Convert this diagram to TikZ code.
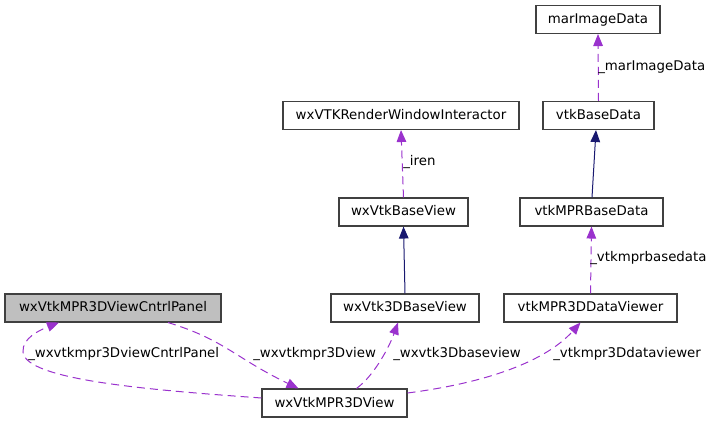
\documentclass[tikz,border=0pt]{standalone}
\usepackage{fontspec}
\setmainfont{DejaVu Sans}
\usetikzlibrary{arrows.meta,calc}
\definecolor{usecol}{HTML}{9A32CD}
\definecolor{inhcol}{HTML}{191970}
\definecolor{boxline}{HTML}{404040}
\definecolor{boxgray}{HTML}{BFBFBF}
\begin{document}
\begin{tikzpicture}[x=0.75pt,y=-0.75pt,
  box/.style={draw=boxline,line width=0.8pt,fill=white,inner sep=0pt,
    minimum height=21pt,text height=7.5pt,text depth=1.5pt,font=\fontsize{10pt}{12pt}\selectfont},
  usage/.style={draw=usecol,line width=0.75pt,dash pattern=on 6pt off 3.75pt,
    -{Triangle[length=9pt,width=7.2pt,fill=usecol]}},
  inherit/.style={draw=inhcol,line width=0.75pt,
    -{Triangle[length=9pt,width=7.2pt,fill=inhcol]}},
  lbl/.style={anchor=base west,inner sep=0pt,font=\fontsize{10pt}{12pt}\selectfont}]
\path[use as bounding box] (0,0) rectangle (715,424);
% nodes
\node[box,minimum width=93pt] (mid) at (598,19.5) {marImageData};
\node[box,minimum width=177pt] (rwi) at (401,115.5) {wxVTKRenderWindowInteractor};
\node[box,minimum width=83.25pt] (bd) at (598.5,115.5) {vtkBaseData};
\node[box,minimum width=96.75pt] (wbv) at (403.5,212) {wxVtkBaseView};
\node[box,minimum width=107.25pt] (mbd) at (591.5,212) {vtkMPRBaseData};
\node[box,minimum width=162pt,fill=boxgray] (panel) at (113,308) {wxVtkMPR3DViewCntrlPanel};
\node[box,minimum width=111pt] (w3d) at (405,308) {wxVtk3DBaseView};
\node[box,minimum width=129.75pt] (dv) at (590.5,308) {vtkMPR3DDataViewer};
\node[box,minimum width=108.75pt] (view) at (334.5,403) {wxVtkMPR3DView};
% edges
\draw[usage] (bd.north) -- (mid.south);
\node[lbl] (lmid) at (598,71) {\_marImageData};
\draw[inherit] ($(mbd.north)+(0.5,0)$) -- ($(bd.south)+(-2.5,0)$);
\draw[usage] (wbv.north) -- (rwi.south);
\node[lbl] (liren) at (403,166) {\_iren};
\draw[inherit] (w3d.north) -- (wbv.south);
\draw[usage] (dv.north) -- (mbd.south);
\node[lbl] (lmbd) at (590,262) {\_vtkmprbasedata};
\draw[usage] ($(view.west)+(0,-5)$) .. controls (150,390) and (25,380) .. (23,352)
  .. controls (22,338) and (40,330) .. ($(panel.south)+(-54,0)$);
\node[lbl] (lpanel) at (28,358) {\_wxvtkmpr3DviewCntrlPanel};
\draw[usage] ($(panel.south)+(55,0)$) .. controls (225,340) and (235,358) .. ($(view.north)+(-36,0)$);
\node[lbl] (lview) at (253,358) {\_wxvtkmpr3Dview};
\draw[usage] ($(view.north)+(22,0)$) .. controls (375,375) and (390,345) .. ($(w3d.south)+(-7,0)$);
\node[lbl] (lw3d) at (393,358) {\_wxvtk3Dbaseview};
\draw[usage] ($(view.east)+(0,-10)$) .. controls (485,383) and (545,362) .. ($(dv.south)+(-10,0)$);
\node[lbl] (ldv) at (553,358) {\_vtkmpr3Ddataviewer};
\end{tikzpicture}
\end{document}
